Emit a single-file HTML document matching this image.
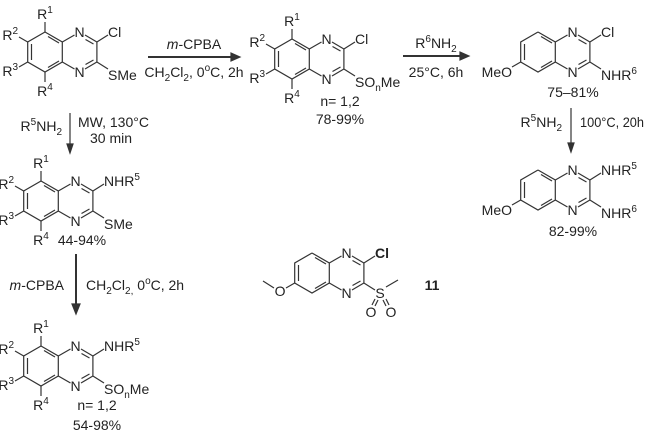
<!DOCTYPE html>
<html><head><meta charset="utf-8"><style>
html,body{margin:0;padding:0;background:#fff;}
svg{display:block;font-family:"Liberation Sans",sans-serif;}
text{fill:#222;font-size:14px;}
line,path,polyline{stroke:#333;stroke-width:1.2;fill:none;}
</style></head><body>
<svg width="649" height="436" viewBox="0 0 649 436" xmlns="http://www.w3.org/2000/svg">
<defs>
<g id="core">
 <polyline points="0,-20 17.3,-10 17.3,10 0,20 -17.3,10 -17.3,-10 0,-20"/>
 <line x1="-13.5" y1="-8" x2="-13.5" y2="8"/>
 <line x1="3" y1="-15.5" x2="14" y2="-9"/>
 <line x1="3" y1="15.5" x2="14" y2="9"/>
 <line x1="17.3" y1="-10" x2="29.5" y2="-17"/>
 <line x1="17.3" y1="10" x2="29.5" y2="17"/>
 <line x1="40" y1="-17" x2="51.9" y2="-10"/>
 <line x1="40" y1="17" x2="51.9" y2="10"/>
 <line x1="51.9" y1="-10" x2="51.9" y2="10"/>
 <line x1="40.5" y1="-12.5" x2="48.5" y2="-8"/>
 <line x1="40.5" y1="12.5" x2="48.5" y2="8"/>
 <text x="34.6" y="-15" text-anchor="middle">N</text>
 <text x="34.6" y="25" text-anchor="middle">N</text>
 <line x1="51.9" y1="-10" x2="63" y2="-17"/>
 <line x1="51.9" y1="10" x2="63" y2="17"/>
</g>
<g id="rs">
 <line x1="0" y1="-20" x2="0" y2="-30"/>
 <line x1="-17.3" y1="-10" x2="-26" y2="-15"/>
 <line x1="-17.3" y1="10" x2="-26" y2="15"/>
 <line x1="0" y1="20" x2="0" y2="30"/>
 <text x="0" y="-33" text-anchor="middle">R<tspan font-size="10" dy="-6">1</tspan></text>
 <text x="-27" y="-12" text-anchor="end">R<tspan font-size="10" dy="-6">2</tspan></text>
 <text x="-27" y="24" text-anchor="end">R<tspan font-size="10" dy="-6">3</tspan></text>
 <text x="0" y="44" text-anchor="middle">R<tspan font-size="10" dy="-6">4</tspan></text>
</g>
<g id="meo">
 <line x1="-17.3" y1="10" x2="-26" y2="15"/>
 <text x="-26" y="25" text-anchor="end">MeO</text>
</g>
</defs>

<g transform="translate(45,52)"><use href="#core"/><use href="#rs"/>
 <text x="63" y="-15">Cl</text><text x="63" y="28">SMe</text></g>

<line x1="148" y1="57" x2="234" y2="57" style="stroke-width:2"/>
<path d="M240,57 L231,53 L231,61 Z" style="fill:#333"/>
<text x="194" y="49" text-anchor="middle"><tspan font-style="italic">m</tspan>-CPBA</text>
<text x="194" y="77" text-anchor="middle">CH<tspan font-size="10" dy="4">2</tspan><tspan dy="-4">Cl</tspan><tspan font-size="10" dy="4">2</tspan><tspan dy="-4">, 0</tspan><tspan font-size="10" dy="-6">o</tspan><tspan dy="6">C, 2h</tspan></text>

<g transform="translate(292,59)"><use href="#core"/><use href="#rs"/>
 <text x="63" y="-15">Cl</text><text x="63" y="28">SO<tspan font-size="10" dy="4">n</tspan><tspan dy="-4">Me</tspan></text></g>
<text x="340" y="106" text-anchor="middle">n= 1,2</text>
<text x="340" y="124" text-anchor="middle">78-99%</text>

<line x1="403" y1="56" x2="463" y2="56" style="stroke-width:2"/>
<path d="M469,56 L460,52 L460,60 Z" style="fill:#333"/>
<text x="436" y="48" text-anchor="middle">R<tspan font-size="10" dy="-6">6</tspan><tspan dy="6">NH</tspan><tspan font-size="10" dy="4">2</tspan></text>
<text x="436" y="77" text-anchor="middle">25°C, 6h</text>

<g transform="translate(538,52)"><use href="#core"/><use href="#meo"/>
 <text x="63" y="-15">Cl</text><text x="63" y="28">NHR<tspan font-size="10" dy="-6">6</tspan></text></g>
<text x="573" y="97" text-anchor="middle">75–81%</text>

<line x1="571" y1="108" x2="571" y2="145"/>
<path d="M571,152 L568,143 L574,143 Z" style="fill:#333"/>
<text x="562" y="127" text-anchor="end">R<tspan font-size="10" dy="-6">5</tspan><tspan dy="6">NH</tspan><tspan font-size="10" dy="4">2</tspan></text>
<text x="580" y="127" textLength="64" lengthAdjust="spacingAndGlyphs">100°C, 20h</text>

<g transform="translate(538,190)"><use href="#core"/><use href="#meo"/>
 <text x="63" y="-15">NHR<tspan font-size="10" dy="-6">5</tspan></text><text x="63" y="28">NHR<tspan font-size="10" dy="-6">6</tspan></text></g>
<text x="573" y="236" text-anchor="middle">82-99%</text>

<line x1="70" y1="113" x2="70" y2="146"/>
<path d="M70,153 L67,144 L73,144 Z" style="fill:#333"/>
<text x="62" y="131" text-anchor="end">R<tspan font-size="10" dy="-6">5</tspan><tspan dy="6">NH</tspan><tspan font-size="10" dy="4">2</tspan></text>
<text x="78" y="127" font-size="13">MW, 130°C</text>
<text x="90" y="143" font-size="13">30 min</text>

<g transform="translate(41,201)"><use href="#core"/><use href="#rs"/>
 <text x="63" y="-15">NHR<tspan font-size="10" dy="-6">5</tspan></text><text x="63" y="28">SMe</text></g>
<text x="82" y="245" text-anchor="middle">44-94%</text>

<line x1="76" y1="254" x2="76" y2="306" style="stroke-width:2"/>
<path d="M76,314 L72,304 L80,304 Z" style="fill:#333"/>
<text x="64" y="290" text-anchor="end"><tspan font-style="italic">m</tspan>-CPBA</text>
<text x="86" y="290">CH<tspan font-size="10" dy="4">2</tspan><tspan dy="-4">Cl</tspan><tspan font-size="10" dy="4">2,</tspan><tspan dy="-4"> 0</tspan><tspan font-size="10" dy="-6">o</tspan><tspan dy="6">C, 2h</tspan></text>

<g transform="translate(41,366)"><use href="#core"/><use href="#rs"/>
 <text x="63" y="-15">NHR<tspan font-size="10" dy="-6">5</tspan></text><text x="63" y="28">SO<tspan font-size="10" dy="4">n</tspan><tspan dy="-4">Me</tspan></text></g>
<text x="97" y="410" text-anchor="middle">n= 1,2</text>
<text x="97" y="430" text-anchor="middle">54-98%</text>

<g transform="translate(312,273)"><use href="#core"/>
 <line x1="-17.3" y1="10" x2="-26" y2="15"/>
 <text x="-32" y="23" text-anchor="middle">O</text>
 <line x1="-38" y1="15" x2="-49" y2="8"/>
 <text x="63" y="-15" font-weight="bold">Cl</text>
 <text x="68" y="25" text-anchor="middle">S</text>
 <line x1="74" y1="14" x2="86" y2="7"/>
 <line x1="63" y1="26" x2="60" y2="32"/><line x1="66" y1="27" x2="63" y2="33"/>
 <line x1="71" y1="27" x2="74" y2="33"/><line x1="74" y1="26" x2="77" y2="32"/>
 <text x="59" y="44" text-anchor="middle">O</text>
 <text x="79" y="44" text-anchor="middle">O</text>
</g>
<text x="432" y="290" text-anchor="middle" font-weight="bold">11</text>
</svg>
</body></html>
